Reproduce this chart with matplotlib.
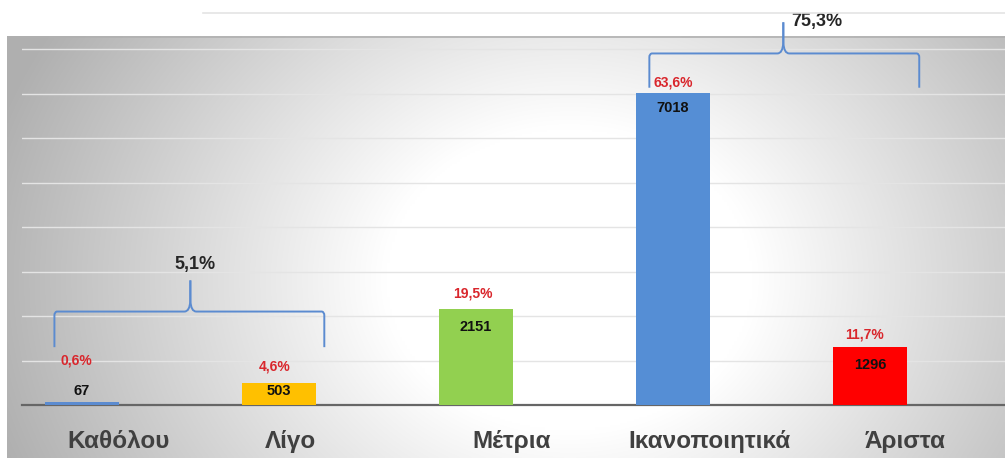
import numpy as np
import matplotlib
matplotlib.use("Agg")
import matplotlib.pyplot as plt
import matplotlib.transforms as mtransforms
from matplotlib.path import Path
from matplotlib.patches import PathPatch
from matplotlib.lines import Line2D

categories = ["Καθόλου", "Λίγο", "Μέτρια", "Ικανοποιητικά", "Άριστα"]
counts = [67, 503, 2151, 7018, 1296]
percents = ["0,6%", "4,6%", "19,5%", "63,6%", "11,7%"]
group_labels = ["5,1%", "75,3%"]
bar_colors = ["#5b8bd0", "#ffc000", "#92d050", "#558ed5", "#ff0000"]

plt.rcParams['font.family'] = ['Liberation Sans', 'DejaVu Sans']

W, H = 1005, 458
fig = plt.figure(figsize=(W / 100, H / 100), dpi=100)
fig.patch.set_facecolor("white")

# background gradient panel
px0, py0 = 7, 36
bg = fig.add_axes([px0 / W, 0, 1 - px0 / W, (H - py0) / H])
xs = np.linspace(px0, W, 400)
ys = np.linspace(py0, H, 200)
X, Y = np.meshgrid(xs, ys)
d = np.sqrt(((X - 570) / 460) ** 2 + ((Y - 280) / 380) ** 2)
t = np.clip((d - 0.40) / (1.1 - 0.40), 0, 1.3)
v = 1 - 0.24 * t
img = np.dstack([v, v, v])
bg.imshow(img, extent=[px0, W, H, py0], aspect="auto", interpolation="bilinear")
bg.set_xlim(px0, W)
bg.set_ylim(H, py0)
bg.axis("off")
bg.plot([px0, W], [py0 + 1, py0 + 1], color="#b0b0b0", lw=1.2)

# stray gridline above panel
fig.add_artist(Line2D([203 / W, 1], [1 - 13 / H, 1 - 13 / H], color="#e4e4e4", lw=1.2))

# main axes
base_y = 405
top_y = 36
left_x = 22
ax = fig.add_axes([left_x / W, (H - base_y) / H, 1 - left_x / W, (base_y - top_y) / H])
ax.patch.set_alpha(0)
ppu = 0.0445  # px per unit
ax.set_ylim(0, (base_y - top_y) / ppu)
sp = 197.0
ax.set_xlim(-(82 - left_x) / sp, -(82 - left_x) / sp + (W - left_x) / sp)

x = np.arange(len(categories))
ax.set_yticks(np.arange(1000, 9000, 1000))
ax.yaxis.grid(True, color="#e4e4e4", lw=1.0)
ax.set_axisbelow(True)
for s in ["left", "right", "top"]:
    ax.spines[s].set_visible(False)
ax.spines["bottom"].set_color("#666666")
ax.spines["bottom"].set_linewidth(1.6)
ax.tick_params(axis="y", length=0, labelleft=False)
ax.tick_params(axis="x", length=0, pad=18)
ax.set_xticks(x)
ax.set_xticklabels(categories, fontsize=17.5, fontweight="bold", color="#404040")
lab_dx = [37, 11, 36, 36, 35]
for lbl, dxp in zip(ax.get_xticklabels(), lab_dx):
    lbl.set_transform(lbl.get_transform() + mtransforms.ScaledTranslation(dxp / 100, 0, fig.dpi_scale_trans))

bars = ax.bar(x, counts, width=0.375, color=bar_colors, zorder=3)

pct_off = [30, 11.5, 11.5, 7.5, 9.5]
pct_dx = [-4, -3, -2, 0, -4]
val_off = [8, -6, -12.5, -11, -12.5]
for i, (c, p) in enumerate(zip(counts, percents)):
    ax.annotate(p, (x[i], c), xytext=(pct_dx[i], pct_off[i]), textcoords="offset points",
                ha="center", va="center", fontsize=10, fontweight="bold", color="#d9262c", zorder=5)
    ax.annotate(str(c), (x[i], c), xytext=(0, val_off[i]), textcoords="offset points",
                ha="center", va="center", fontsize=10.5, fontweight="bold", color="#111111", zorder=5)


def brace(ax, x0, x1, xm, y_end, y_h, y_top, color="#5b8bd0"):
    r = (y_h - y_end) * 0.35
    dx = 0.06
    codes = [Path.MOVETO, Path.LINETO, Path.CURVE3, Path.CURVE3, Path.LINETO, Path.LINETO,
             Path.CURVE3, Path.CURVE3, Path.LINETO]
    for xe, sgn in ((x0, 1), (x1, -1)):
        vv = [
            (xe, y_end), (xe, y_h - r * 0.3), (xe, y_h - r * 0.05),
            (xe + sgn * dx * 0.2, y_h), (xe + sgn * dx, y_h),
            (xm - sgn * dx * 0.5, y_h),
            (xm - sgn * dx * 0.05, y_h), (xm, y_h + (y_top - y_h) * 0.35),
            (xm, y_top),
        ]
        pp = PathPatch(Path(vv, codes), fill=False, edgecolor=color, lw=1.4, clip_on=False, zorder=4)
        ax.add_patch(pp)


brace(ax, -0.14, 1.23, 0.55, 1300, 2100, 2800)
brace(ax, 2.88, 4.25, 3.56, 7130, 7900, 8600)
ax.text(0.575, 3150, group_labels[0], ha="center", va="center", fontsize=13, fontweight="bold", color="#262626")
ax.text(3.60, 8620, group_labels[1], ha="left", va="center", fontsize=13, fontweight="bold", color="#262626", clip_on=False)

fig.savefig("out.png", dpi=100)
